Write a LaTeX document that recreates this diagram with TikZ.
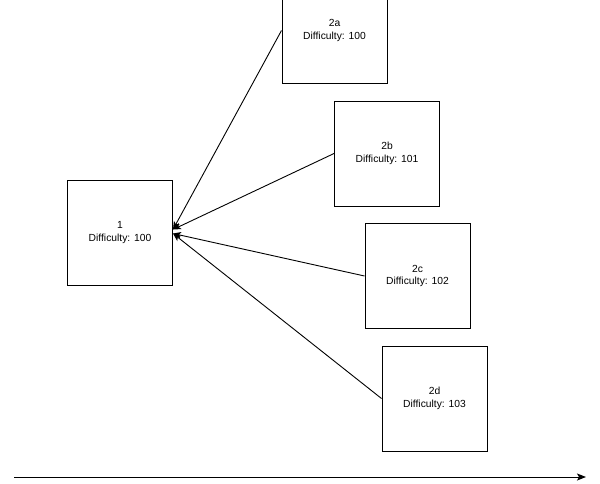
\documentclass[tikz,border=0pt]{standalone}
\usepackage{fontspec}
\setmainfont{Liberation Sans}
\usetikzlibrary{arrows.meta}
\begin{document}
\begin{tikzpicture}[x=1pt,y=-1pt,
  box/.style={draw=black,line width=1pt,minimum width=105pt,minimum height=105pt,inner sep=0pt,align=center,font=\fontsize{10.3}{12.5}\selectfont},
  link/.style={draw=black,line width=0.9pt,-{Stealth[length=8pt,width=6.5pt,inset=2pt]}}]
\useasboundingbox (0,0) rectangle (600,483);
\node[box] (n1) at (120,232.5) {1\\Difficulty: 100};
\node[box] (n2a) at (334.5,30.5) {2a\\Difficulty: 100};
\node[box] (n2b) at (387,153.5) {2b\\Difficulty: 101};
\node[box] (n2c) at (417.5,276) {2c\\Difficulty: 102};
\node[box] (n2d) at (434.5,398.5) {2d\\Difficulty: 103};
\draw[link] (n2a.west) -- ([yshift=3pt]n1.east);
\draw[link] (n2b.west) -- ([yshift=3pt]n1.east);
\draw[link] (n2c.west) -- ([yshift=-1pt]n1.east);
\draw[link] (n2d.west) -- ([yshift=-1pt]n1.east);
\coordinate (tl) at (14,477);
\coordinate (tr) at (586,477);
\draw[line width=1pt,-{Stealth[length=9pt,width=7pt,inset=2pt]}] (tl) -- (tr);
\end{tikzpicture}
\end{document}
